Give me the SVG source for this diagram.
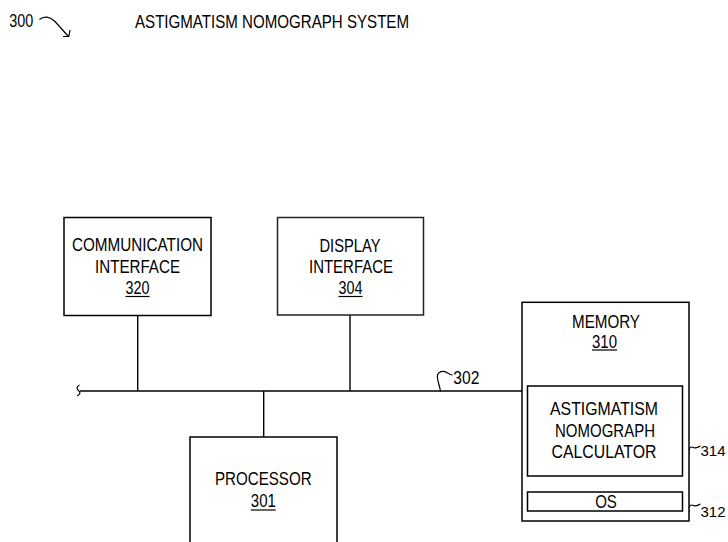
<svg xmlns="http://www.w3.org/2000/svg" width="728" height="542" viewBox="0 0 728 542">
<style>
.box{fill:#fff;stroke:#000;stroke-width:1.5}
.ln{fill:none;stroke:#000;stroke-width:1.4}
.sq{fill:none;stroke:#000;stroke-width:1.2}
text{font-family:"Liberation Sans",Arial,sans-serif;font-size:19px;fill:#000}
.c{text-anchor:middle}
.u{stroke:#000;stroke-width:1.2}
.ref{font-size:15px}
</style>
<rect width="728" height="542" fill="#fff"/>
<g id="title">
<text x="135" y="28.3" font-size="18" textLength="274" lengthAdjust="spacingAndGlyphs">ASTIGMATISM NOMOGRAPH SYSTEM</text>
<text x="9.3" y="26.7" font-size="17.5" textLength="24" lengthAdjust="spacingAndGlyphs">300</text>
<path class="sq" d="M39.5 19.5 C44 15.5 50 16.5 55 21.5 L68.5 36.5"/>
<path class="sq" d="M63 36.5 L68.8 36.5 L70 30"/>
</g>
<g id="connectors">
<path class="ln" d="M80 391 H522"/>
<path class="sq" d="M79.5 385 Q75 387.5 78.5 390.5 Q82 393.5 77 396"/>
<path class="ln" d="M137.7 316 V391"/>
<path class="ln" d="M350 315 V391"/>
<path class="ln" d="M263.7 391 V437"/>
<path class="sq" d="M440.5 391.5 C440 386 436.5 379 437.5 375 C438.5 371.5 443 370.5 446 372 C448.5 373.5 450 375 452.5 375"/>
<path class="sq" d="M683 453.5 H689 C687.5 448.5 691 446 693.5 447.5 C696 449 698 447 700.5 446"/>
<path class="sq" d="M683 511.5 H689 C687.5 506.5 691 504 693.5 505.5 C696 507 698 505 700.5 504"/>
</g>
<g id="n320">
<rect class="box" x="64" y="217.5" width="147" height="98"/>
<text class="c" x="137.5" y="251" textLength="131" lengthAdjust="spacingAndGlyphs">COMMUNICATION</text>
<text class="c" x="137.5" y="273.3" textLength="85" lengthAdjust="spacingAndGlyphs">INTERFACE</text>
<text class="c" x="137.5" y="294" textLength="24" lengthAdjust="spacingAndGlyphs">320</text>
<line class="u" x1="125.5" y1="296.5" x2="149.5" y2="296.5"/>
</g>
<g id="n304">
<rect class="box" x="277.5" y="217.5" width="146" height="97.5" style="stroke:#222"/>
<text class="c" x="350" y="251.7" textLength="61" lengthAdjust="spacingAndGlyphs">DISPLAY</text>
<text class="c" x="351" y="273.3" textLength="84" lengthAdjust="spacingAndGlyphs">INTERFACE</text>
<text class="c" x="350.5" y="294" textLength="24" lengthAdjust="spacingAndGlyphs">304</text>
<line class="u" x1="338.5" y1="296.5" x2="362.5" y2="296.5"/>
</g>
<g id="n310">
<rect class="box" x="522" y="302.3" width="167" height="218.7"/>
<text class="c" x="606" y="328" font-size="18" textLength="68" lengthAdjust="spacingAndGlyphs">MEMORY</text>
<text class="c" x="604.5" y="347.5" font-size="18" textLength="25" lengthAdjust="spacingAndGlyphs">310</text>
<line class="u" x1="592" y1="350" x2="617" y2="350"/>
</g>
<g id="n314">
<rect class="box" x="527.5" y="386" width="155" height="90"/>
<text class="c" x="604" y="415" textLength="108" lengthAdjust="spacingAndGlyphs">ASTIGMATISM</text>
<text class="c" x="605" y="436.7" textLength="100" lengthAdjust="spacingAndGlyphs">NOMOGRAPH</text>
<text class="c" x="604" y="458.3" textLength="105" lengthAdjust="spacingAndGlyphs">CALCULATOR</text>
<text class="ref" x="700.5" y="456">314</text>
</g>
<g id="n312">
<rect class="box" x="527.5" y="492" width="155" height="19"/>
<text class="c" x="606" y="508.3" textLength="21.7" lengthAdjust="spacingAndGlyphs">OS</text>
<text class="ref" x="700.5" y="516.5">312</text>
</g>
<g id="n301">
<rect class="box" x="190" y="437" width="147" height="115"/>
<text class="c" x="263.3" y="485" textLength="96.7" lengthAdjust="spacingAndGlyphs">PROCESSOR</text>
<text class="c" x="263.3" y="507.3" textLength="25" lengthAdjust="spacingAndGlyphs">301</text>
<line class="u" x1="250.8" y1="510" x2="275.8" y2="510"/>
</g>
<g id="n302">
<text x="453.3" y="384" font-size="17.5" textLength="26" lengthAdjust="spacingAndGlyphs">302</text>
</g>
</svg>
